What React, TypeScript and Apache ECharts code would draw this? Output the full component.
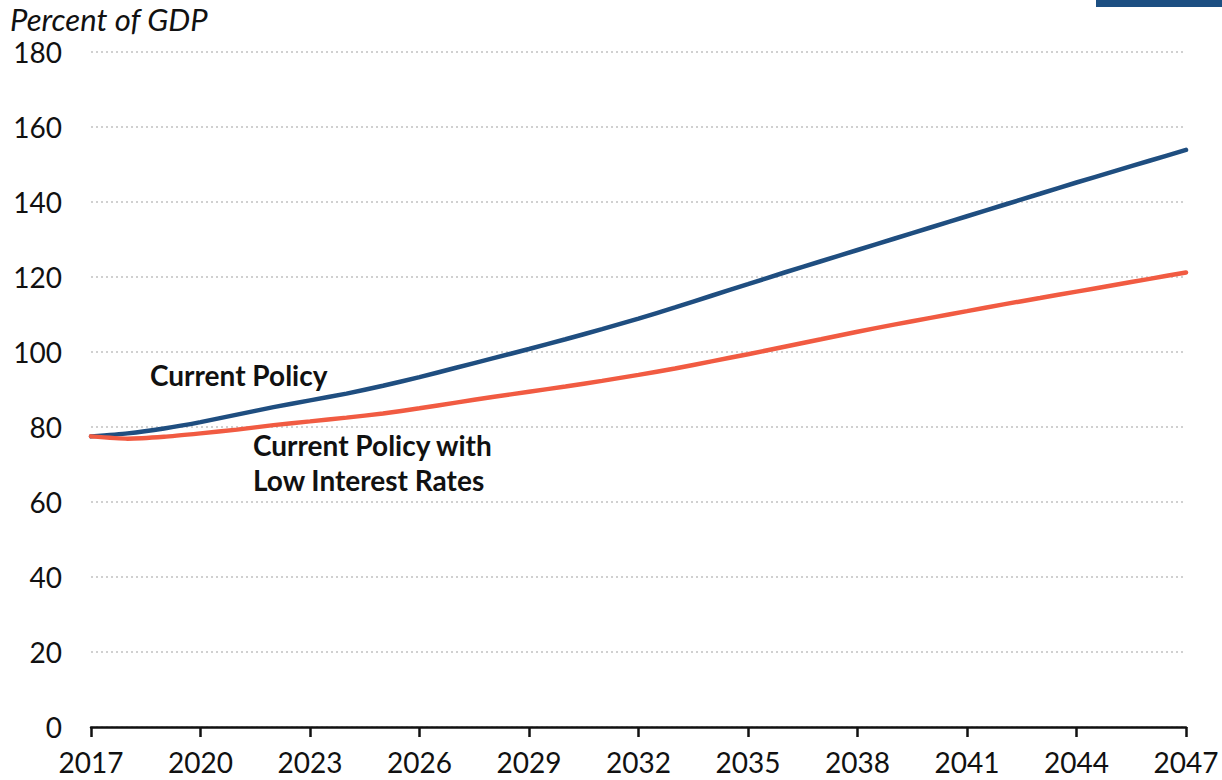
import React, { useEffect, useRef } from "react";
import * as echarts from "echarts";

const years: string[] = [];
for (let y = 2017; y <= 2047; y++) years.push(String(y));

const currentPolicy = [
  77.5, 78.3, 79.6, 81.3, 83.3, 85.3, 87.1, 88.9, 91.0, 93.3,
  95.8, 98.3, 100.8, 103.4, 106.1, 108.9, 111.9, 115.0, 118.1, 121.2,
  124.2, 127.2, 130.2, 133.2, 136.2, 139.2, 142.2, 145.2, 148.1, 151.0,
  153.9,
];

const lowRates = [
  77.5, 76.9, 77.4, 78.3, 79.3, 80.5, 81.5, 82.5, 83.6, 85.0,
  86.5, 88.0, 89.4, 90.8, 92.3, 93.9, 95.6, 97.5, 99.4, 101.4,
  103.4, 105.4, 107.3, 109.1, 110.9, 112.7, 114.4, 116.1, 117.8, 119.5,
  121.2,
];

const yTicks = { min: 0, max: 180, interval: 20 };

const BLUE = "#1f4e80";
const RED = "#f15b42";
const FONT = "Lato, 'Noto Sans', sans-serif";

export default function App() {
  const ref = useRef<HTMLDivElement>(null);
  useEffect(() => {
    if (!ref.current) return;
    const chart = echarts.init(ref.current, undefined, { renderer: "svg" });
    chart.setOption({
      animation: false,
      backgroundColor: "#ffffff",
      textStyle: { fontFamily: FONT },
      grid: { left: 91, right: 36, top: 52, bottom: 53, containLabel: false },
      xAxis: {
        type: "category",
        data: years,
        boundaryGap: false,
        axisLine: { lineStyle: { color: "#111", width: 2.5 } },
        axisTick: { interval: 2, length: 10, lineStyle: { color: "#111", width: 2.5 } },
        axisLabel: { interval: 2, fontSize: 28, color: "#111", margin: 21, fontFamily: FONT },
        splitLine: { show: false },
      },
      yAxis: {
        type: "value",
        min: yTicks.min,
        max: yTicks.max,
        interval: yTicks.interval,
        axisLine: { show: false },
        axisTick: { show: false },
        axisLabel: { fontSize: 28, lineHeight: 26, color: "#111", margin: 29, fontFamily: FONT },
        splitLine: { lineStyle: { color: "#d0d0d0", width: 2, type: [2, 3] } },
      },
      series: [
        {
          name: "Current Policy",
          type: "line",
          data: currentPolicy,
          showSymbol: false,
          smooth: 0.2,
          lineStyle: { color: BLUE, width: 4.5, cap: "round" },
          z: 3,
        },
        {
          name: "Current Policy with Low Interest Rates",
          type: "line",
          data: lowRates,
          showSymbol: false,
          smooth: 0.2,
          lineStyle: { color: RED, width: 4.5, cap: "round" },
          z: 4,
        },
      ],
      graphic: [
        {
          type: "rect",
          shape: { x: 1096, y: 0, width: 126, height: 7 },
          style: { fill: "#1c4f82" },
        },
        {
          type: "text",
          x: 10,
          y: 4,
          style: {
            text: "Percent of GDP",
            font: `italic 31px ${FONT}`,
            lineHeight: 30,
            fill: "#111",
          },
        },
        {
          type: "text",
          x: 150,
          y: 361,
          style: {
            text: "Current Policy",
            font: `bold 28px ${FONT}`,
            fill: "#111",
          },
        },
        {
          type: "text",
          x: 253,
          y: 427,
          style: {
            text: "Current Policy with\nLow Interest Rates",
            font: `bold 28px ${FONT}`,
            lineHeight: 35,
            fill: "#111",
          },
        },
      ],
    });
    return () => chart.dispose();
  }, []);
  return (
    <div
      ref={ref}
      style={{ position: "fixed", left: 0, top: 0, width: 1222, height: 780 }}
    />
  );
}
